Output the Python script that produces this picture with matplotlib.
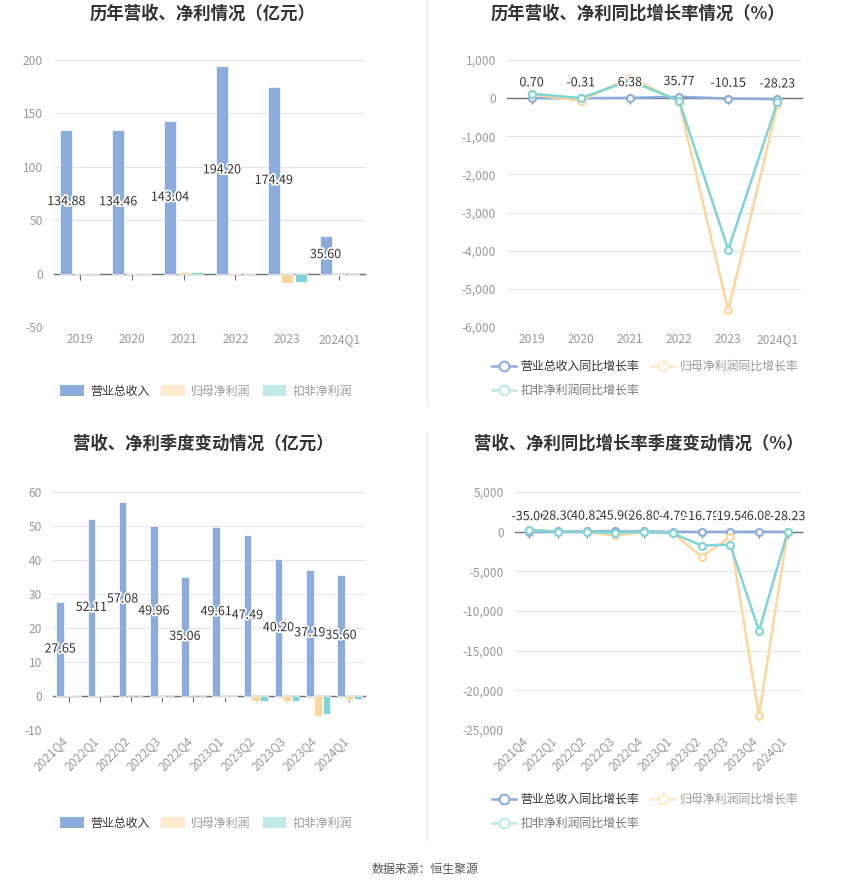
import matplotlib
matplotlib.use('Agg')
import matplotlib.pyplot as plt
import numpy as np
from matplotlib.patches import Patch
from matplotlib.lines import Line2D
from matplotlib.ticker import FuncFormatter, FixedLocator
import matplotlib.patheffects as pe

plt.rcParams['font.family'] = ['Noto Sans CJK SC', 'DejaVu Sans']
plt.rcParams['axes.unicode_minus'] = False

# yearly data (亿元)
years = ['2019', '2020', '2021', '2022', '2023', '2024Q1']
revenue = [134.88, 134.46, 143.04, 194.20, 174.49, 35.60]
net_profit = [0.6, 0.2, 1.3, 0.1, -8.8, -1.0]
net_profit_kf = [0.3, 0.2, 1.5, 0.1, -8.2, -1.0]

# yearly growth (%)
revenue_growth = [0.70, -0.31, 6.38, 35.77, -10.15, -28.23]
net_profit_growth = [100, -70, 540, -90, -5560, -190]
net_profit_kf_growth = [120, 0, 460, -70, -3975, -105]

# quarterly data (亿元)
quarters = ['2021Q4', '2022Q1', '2022Q2', '2022Q3', '2022Q4',
            '2023Q1', '2023Q2', '2023Q3', '2023Q4', '2024Q1']
revenue_q = [27.65, 52.11, 57.08, 49.96, 35.06, 49.61, 47.49, 40.20, 37.19, 35.60]
net_profit_q = [0.35, 0.3, 0.1, -0.2, 0.05, -0.3, -1.5, -1.5, -5.9, -1.1]
net_profit_kf_q = [0.3, 0.35, 0.1, -0.1, 0.05, -0.4, -1.6, -1.4, -5.4, -0.9]

# quarterly growth (%)
revenue_growth_q = [-35.06, 28.30, 40.82, 45.90, 26.80, -4.79, -16.79, -19.54, 6.08, -28.23]
net_profit_growth_q = [250, 0, -60, -480, -60, -150, -3150, -700, -23200, -30]
net_profit_kf_growth_q = [200, 10, -50, -120, -40, -200, -1750, -1640, -12500, -40]

BLUE = '#8DACDB'
ORANGE = '#FFD699'
TEAL = '#7ED4D6'
ORANGE_L = '#FFEBCC'
TEAL_L = '#C2E9EA'
GRID = '#E0E6F1'
AXIS = '#6E7079'
TICK_TXT = '#999999'
FS = 8.6

W, H = 850, 891
fig = plt.figure(figsize=(W / 100, H / 100), dpi=100)


def px_axes(x0, x1, y0, y1):
    return fig.add_axes([x0 / W, 1 - y1 / H, (x1 - x0) / W, (y1 - y0) / H])


def style_axes(ax, ylim, yticks, cats, rotate=False):
    ax.set_ylim(*ylim)
    ax.set_xlim(-0.5, len(cats) - 0.5)
    ax.yaxis.set_major_locator(FixedLocator(yticks))
    ax.yaxis.set_major_formatter(FuncFormatter(lambda v, p: f'{v:,.0f}'))
    ax.grid(axis='y', color=GRID, linewidth=0.8)
    ax.set_axisbelow(True)
    for s in ['top', 'right', 'left']:
        ax.spines[s].set_visible(False)
    ax.spines['bottom'].set_position(('data', 0))
    ax.spines['bottom'].set_color(AXIS)
    ax.spines['bottom'].set_linewidth(1)
    ax.spines['bottom'].set_zorder(1)
    ax.set_xticks(range(len(cats)))
    ax.tick_params(axis='x', length=4, color=AXIS, labelbottom=False)
    ax.tick_params(axis='y', length=0, labelsize=FS, labelcolor=TICK_TXT, pad=8)
    for i, c in enumerate(cats):
        if rotate:
            ax.annotate(c, xy=(i, 0), xycoords=('data', 'axes fraction'),
                        xytext=(1, -3), textcoords='offset points',
                        ha='right', va='top', rotation=45,
                        fontsize=FS, color=TICK_TXT)
        else:
            ax.annotate(c, xy=(i, 0), xycoords=('data', 'axes fraction'),
                        xytext=(0, -9), textcoords='offset points',
                        ha='center', va='center', fontsize=FS, color=TICK_TXT)


stroke = [pe.withStroke(linewidth=2.5, foreground='white')]


def draw_bars(ax, rev, np_, kf, width, off):
    x = np.arange(len(rev))
    ax.bar(x - off, rev, width, color=BLUE, edgecolor='white', linewidth=0.5, zorder=2)
    ax.bar(x, np_, width, color=ORANGE, edgecolor='white', linewidth=0.5, zorder=2)
    ax.bar(x + off, kf, width, color=TEAL, edgecolor='white', linewidth=0.5, zorder=2)
    for xi, v in zip(x, rev):
        ax.text(xi - off, v / 2, f'{v:.2f}', ha='center', va='center',
                fontsize=FS + 0.4, color='#333333', path_effects=stroke, zorder=5)


def draw_lines(ax, rev, np_, kf):
    x = np.arange(len(rev))
    kw = dict(marker='o', markersize=5, markerfacecolor='white',
              markeredgewidth=1.5, linewidth=1.8)
    ax.plot(x, rev, color=BLUE, zorder=3, **kw)
    ax.plot(x, np_, color=ORANGE, zorder=3, **kw)
    ax.plot(x, kf, color=TEAL, zorder=4, **kw)
    for xi, v in zip(x, rev):
        ax.annotate(f'{v:.2f}', xy=(xi, v), xytext=(0, 11), textcoords='offset points',
                    ha='center', va='center', fontsize=FS + 0.4, color='#333333',
                    path_effects=stroke, zorder=6)


# top left
ax1 = px_axes(54, 365, 60, 327)
style_axes(ax1, (-50, 200), [-50, 0, 50, 100, 150, 200], years)
draw_bars(ax1, revenue, net_profit, net_profit_kf, 0.23, 0.26)

# top right
ax2 = px_axes(507, 802, 60, 327)
style_axes(ax2, (-6000, 1000), list(range(-6000, 1001, 1000)), years)
draw_lines(ax2, revenue_growth, net_profit_growth, net_profit_kf_growth)

# bottom left
ax3 = px_axes(53, 365, 492, 730)
style_axes(ax3, (-10, 60), list(range(-10, 61, 10)), quarters, rotate=True)
draw_bars(ax3, revenue_q, net_profit_q, net_profit_kf_q, 0.24, 0.27)

# bottom right
ax4 = px_axes(515, 802, 492, 730)
style_axes(ax4, (-25000, 5000), list(range(-25000, 5001, 5000)), quarters, rotate=True)
draw_lines(ax4, revenue_growth_q, net_profit_growth_q, net_profit_kf_growth_q)

# titles
title_kw = dict(ha='center', va='center', fontsize=12.5, fontweight='bold', color='#333333')
fig.text(203 / W, 1 - 14 / H, '历年营收、净利情况（亿元）', **title_kw)
fig.text(638 / W, 1 - 14 / H, '历年营收、净利同比增长率情况（%）', **title_kw)
fig.text(203 / W, 1 - 444 / H, '营收、净利季度变动情况（亿元）', **title_kw)
fig.text(639 / W, 1 - 444 / H, '营收、净利同比增长率季度变动情况（%）', **title_kw)

# legends
bar_handles = [Patch(facecolor=BLUE), Patch(facecolor=ORANGE_L), Patch(facecolor=TEAL_L)]
bar_labels = ['营业总收入', '归母净利润', '扣非净利润']
line_kw = dict(marker='o', markersize=7, markerfacecolor='white', markeredgewidth=1.5, linewidth=1.8)
line_handles = [Line2D([], [], color=BLUE, **line_kw),
                Line2D([], [], color=TEAL_L, **line_kw),
                Line2D([], [], color=ORANGE_L, **line_kw)]
line_labels = ['营业总收入同比增长率', '扣非净利润同比增长率', '归母净利润同比增长率']


def bar_legend(y):
    lg = fig.legend(bar_handles, bar_labels, loc='center', bbox_to_anchor=(206 / W, 1 - y / H),
                    ncol=3, frameon=False, fontsize=FS, handlelength=2.0, handleheight=1.1,
                    handletextpad=0.5, columnspacing=1.0)
    for t, c in zip(lg.get_texts(), ['#333333', '#999999', '#999999']):
        t.set_color(c)


def line_legend(y):
    lg = fig.legend(line_handles, line_labels, loc='center', bbox_to_anchor=(645 / W, 1 - y / H),
                    ncol=2, frameon=False, fontsize=FS, handlelength=2.0,
                    handletextpad=0.4, columnspacing=1.0, labelspacing=0.9)
    for t, c in zip(lg.get_texts(), ['#333333', '#777777', '#999999']):
        t.set_color(c)


bar_legend(391)
line_legend(378.5)
bar_legend(823)
line_legend(811.5)

# separators
fig.add_artist(Line2D([427 / W, 427 / W], [1, 1 - 405 / H], transform=fig.transFigure,
                      color='#EEEEEE', linewidth=1))
fig.add_artist(Line2D([427 / W, 427 / W], [1 - 432 / H, 1 - 840 / H], transform=fig.transFigure,
                      color='#EEEEEE', linewidth=1))

fig.text(0.5, 1 - 870 / H, '数据来源：恒生聚源', ha='center', va='center', fontsize=FS, color='#555555')

fig.savefig('out.png', dpi=100)
